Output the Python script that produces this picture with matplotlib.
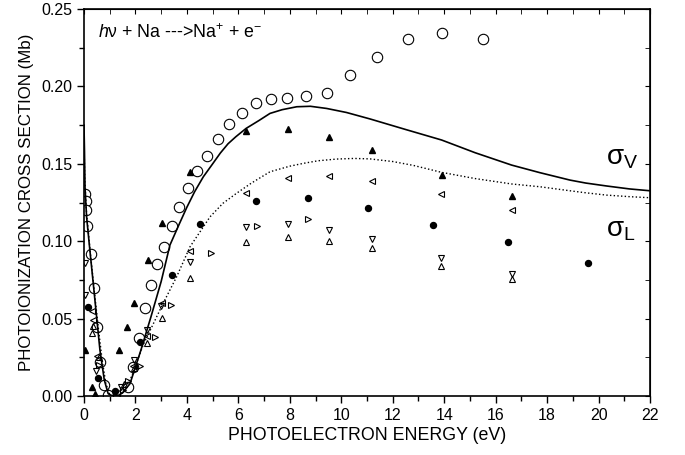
import numpy as np
import matplotlib.pyplot as plt
from matplotlib.ticker import MultipleLocator

plt.rcParams['font.family'] = ['Liberation Sans', 'DejaVu Sans']
plt.rcParams['mathtext.fontset'] = 'custom'
plt.rcParams['mathtext.rm'] = 'Liberation Sans'
plt.rcParams['mathtext.it'] = 'Liberation Sans:italic'

# theory curves
e_vel = [0.0, 0.02, 0.04, 0.1, 0.23, 0.36, 0.49, 0.62, 0.79, 0.94, 1.1, 1.3, 1.5, 1.79,
         2.2, 2.6, 3.0, 3.34, 3.7, 4.0, 4.3, 4.64, 5.0, 5.3, 5.6, 5.9, 6.3, 6.8, 7.23,
         7.7, 8.27, 8.8, 9.43, 10.2, 11.12, 12.5, 13.9, 15.2, 16.62, 17.72, 18.89,
         19.5, 20.31, 21.2, 22.0]
s_vel = [0.175, 0.158, 0.135, 0.116, 0.094, 0.0728, 0.0512, 0.0297, 0.0103, 0.0015, 0.0,
         0.0, 0.002, 0.008, 0.029, 0.051, 0.074, 0.0975, 0.111, 0.122, 0.132, 0.1417,
         0.150, 0.157, 0.163, 0.1675, 0.1729, 0.178, 0.1826, 0.185, 0.1869, 0.1872,
         0.1858, 0.1832, 0.1790, 0.1722, 0.1654, 0.1572, 0.1492, 0.1443, 0.1395,
         0.1376, 0.1357, 0.1338, 0.1326]

e_len = [0.0, 0.03, 0.1, 0.25, 0.4, 0.55, 0.7, 0.85, 1.0, 1.2, 1.4, 1.85, 2.3, 3.08,
         3.6, 4.12, 4.9, 5.4, 5.93, 6.5, 7.23, 8.0, 8.52, 9.1, 9.82, 10.5, 11.12, 12.0,
         12.8, 13.9, 15.2, 16.62, 17.72, 18.89, 19.5, 20.31, 21.2, 22.0]
s_len = [0.165, 0.14, 0.118, 0.092, 0.068, 0.045, 0.024, 0.008, 0.001, 0.0, 0.0,
         0.0125, 0.033, 0.060, 0.077, 0.0964, 0.1158, 0.1245, 0.131, 0.1375, 0.1449,
         0.1485, 0.1503, 0.152, 0.1531, 0.1535, 0.1532, 0.1515, 0.149, 0.1445, 0.1405,
         0.137, 0.1352, 0.1326, 0.1313, 0.1298, 0.1288, 0.1281]

# measured / computed points
e_oc = [0.04, 0.08, 0.09, 0.13, 0.26, 0.38, 0.52, 0.62, 0.78, 0.94, 1.72, 1.92, 2.15,
        2.37, 2.60, 2.85, 3.12, 3.41, 3.70, 4.05, 4.40, 4.77, 5.20, 5.65, 6.13, 6.67,
        7.26, 7.90, 8.63, 9.43, 10.34, 11.40, 12.58, 13.93, 15.52]
s_oc = [0.1305, 0.126, 0.120, 0.1098, 0.0917, 0.070, 0.0448, 0.0222, 0.0071, 0.0006,
        0.0056, 0.0189, 0.0373, 0.057, 0.0717, 0.085, 0.0964, 0.110, 0.1223, 0.1346,
        0.1453, 0.155, 0.1662, 0.1755, 0.1826, 0.1895, 0.1917, 0.1923, 0.1938, 0.1955,
        0.2074, 0.2192, 0.2304, 0.2345, 0.2304]

e_ft = [0.04, 0.30, 0.43, 1.38, 1.66, 1.94, 2.48, 3.04, 4.12, 6.30, 7.92, 9.53, 11.19,
        13.91, 16.63]
s_ft = [0.0297, 0.0056, 0.0011, 0.0297, 0.0448, 0.0599, 0.0879, 0.112, 0.145, 0.1715,
        0.1727, 0.1671, 0.1589, 0.1428, 0.1292]

e_fc = [0.14, 0.53, 1.20, 2.18, 3.41, 4.51, 6.68, 8.72, 11.03, 13.58, 16.47, 19.58]
s_fc = [0.0577, 0.0118, 0.0034, 0.0351, 0.0782, 0.111, 0.1262, 0.1281, 0.1216, 0.1105,
        0.0993, 0.0861]

e_lt = [0.30, 0.35, 0.50, 1.30, 1.92, 2.46, 3.02, 4.12, 6.30, 7.92, 9.53, 11.19, 13.87,
        16.63]
s_lt = [0.055, 0.049, 0.026, 0.002, 0.0194, 0.0388, 0.0599, 0.0939, 0.1313, 0.1406,
        0.1421, 0.1389, 0.1305, 0.1202]

e_dt = [0.04, 0.05, 0.45, 1.45, 1.94, 2.46, 3.0, 4.12, 6.30, 7.92, 9.53, 11.19, 13.87,
        16.63]
s_dt = [0.086, 0.065, 0.016, 0.006, 0.0233, 0.0426, 0.058, 0.0864, 0.109, 0.1109,
        0.1072, 0.1014, 0.0891, 0.0788]

e_ut = [0.30, 0.35, 0.60, 1.55, 1.94, 2.46, 3.02, 4.12, 6.30, 7.92, 9.53, 11.19, 13.87,
        16.63]
s_ut = [0.041, 0.045, 0.025, 0.008, 0.018, 0.034, 0.0502, 0.076, 0.0997, 0.1029, 0.1001,
        0.0956, 0.084, 0.0756]

e_rt = [0.60, 1.50, 1.70, 2.18, 2.76, 3.40, 4.92, 6.71, 8.72]
s_rt = [0.020, 0.004, 0.010, 0.0194, 0.0383, 0.0588, 0.0922, 0.110, 0.1143]

fig, ax = plt.subplots(figsize=(6.85, 4.55), dpi=100)
fig.subplots_adjust(left=0.1226, right=0.949, bottom=0.1297, top=0.980)

ax.plot(e_vel, s_vel, '-', color='black', lw=1.2, zorder=3)
ax.plot(e_len, s_len, ':', color='black', lw=1.0, zorder=3)

ax.plot(e_oc, s_oc, 'o', mfc='white', mec='black', mew=0.8, ms=7.5, ls='none', zorder=2)
ax.plot(e_ft, s_ft, '^', color='black', ms=4.8, ls='none', zorder=4)
ax.plot(e_fc, s_fc, 'o', color='black', ms=4.3, ls='none', zorder=4)
ax.plot(e_lt, s_lt, '<', mfc='none', mec='black', mew=0.8, ms=4.8, ls='none', zorder=4)
ax.plot(e_dt, s_dt, 'v', mfc='none', mec='black', mew=0.8, ms=4.8, ls='none', zorder=4)
ax.plot(e_ut, s_ut, '^', mfc='none', mec='black', mew=0.8, ms=4.8, ls='none', zorder=4)
ax.plot(e_rt, s_rt, '>', mfc='none', mec='black', mew=0.8, ms=4.8, ls='none', zorder=4)

ax.set_xlim(0, 22)
ax.set_ylim(0, 0.25)
ax.xaxis.set_major_locator(MultipleLocator(2))
ax.xaxis.set_minor_locator(MultipleLocator(1))
ax.yaxis.set_major_locator(MultipleLocator(0.05))
ax.yaxis.set_minor_locator(MultipleLocator(0.025))
ax.yaxis.set_major_formatter(plt.FormatStrFormatter('%.2f'))
ax.tick_params(which='both', direction='out', labelsize=11.5, width=1)
ax.tick_params(which='major', length=5)
ax.tick_params(which='minor', length=3.5)
for s in ax.spines.values():
    s.set_linewidth(1.2)

# mirrored ticks pointing inward on top and right
top = ax.secondary_xaxis('top')
top.xaxis.set_major_locator(MultipleLocator(2))
top.xaxis.set_minor_locator(MultipleLocator(1))
top.tick_params(which='both', direction='in', labeltop=False, length=3.5)
right = ax.secondary_yaxis('right')
right.yaxis.set_major_locator(MultipleLocator(0.05))
right.yaxis.set_minor_locator(MultipleLocator(0.025))
right.tick_params(which='both', direction='in', labelright=False, length=3.5)

ax.set_xlabel('PHOTOELECTRON ENERGY (eV)', fontsize=12.8, labelpad=3)
ax.set_ylabel('PHOTOIONIZATION CROSS SECTION (Mb)', fontsize=12.2, labelpad=5)

ax.text(0.55, 0.235, r'$h$ν + Na --->Na$^{+}$ + e$^{-}$', fontsize=12.8, va='center')
ax.text(20.3, 0.154, r'σ$_{\rm V}$', fontsize=20, va='center')
ax.text(20.3, 0.107, r'σ$_{\rm L}$', fontsize=20, va='center')

plt.savefig('out.png', dpi=100)
